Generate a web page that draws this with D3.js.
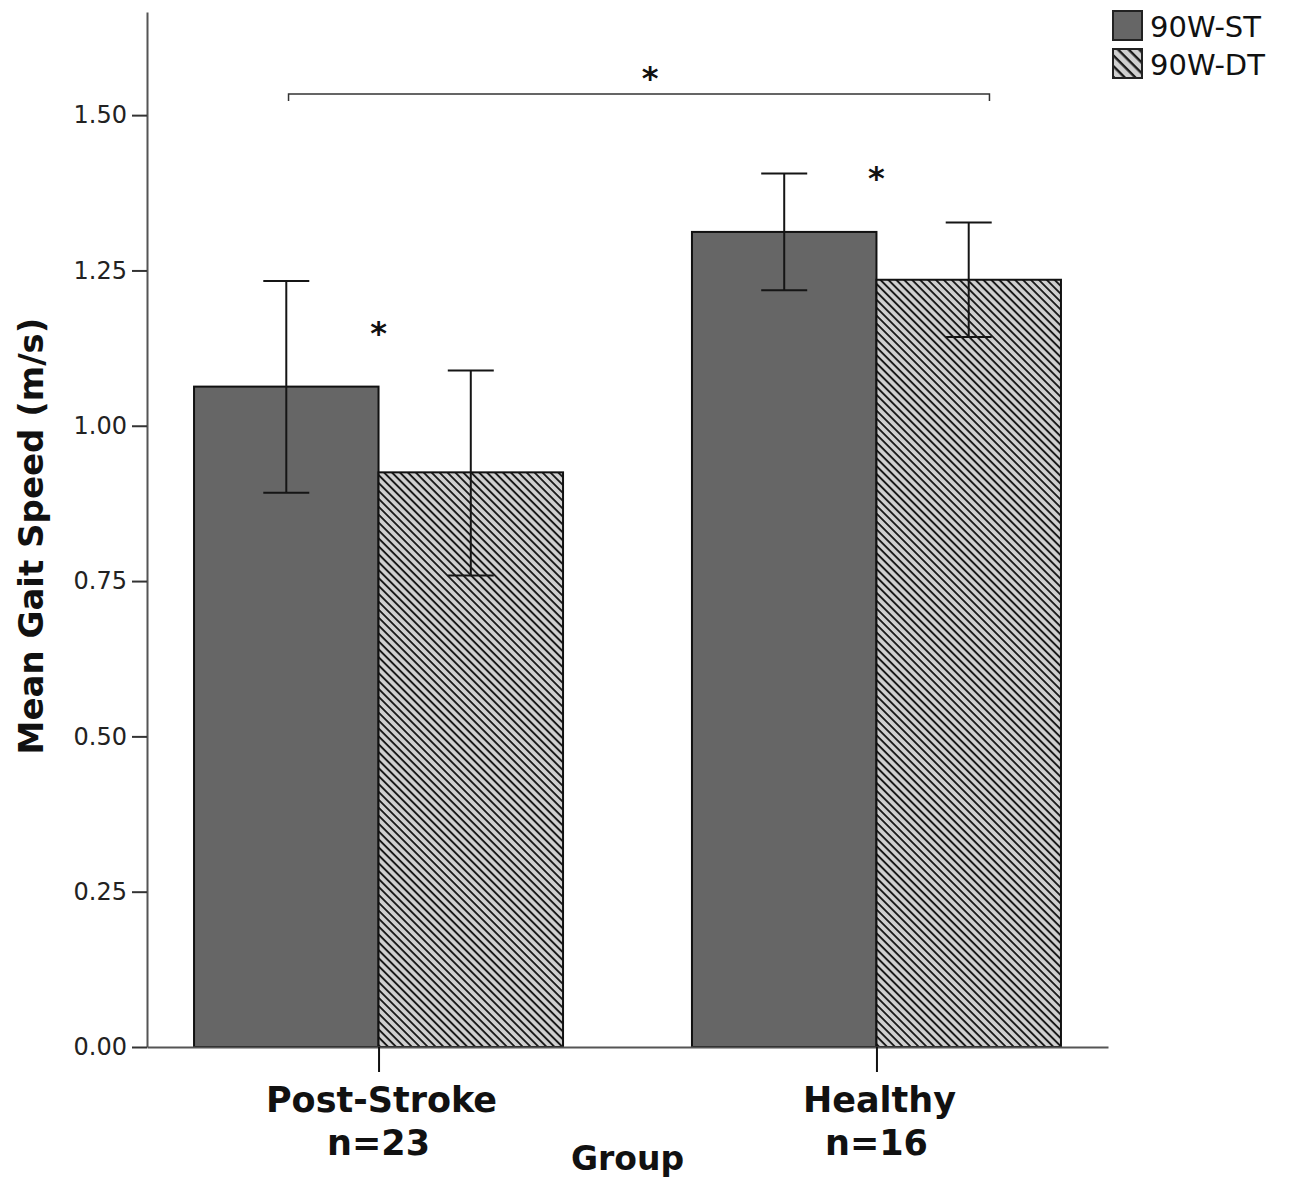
<!DOCTYPE html>
<html><head><meta charset="utf-8">
<script src="https://cdn.jsdelivr.net/npm/d3@7"></script>
<style>body{margin:0;background:#fff}svg{display:block}</style>
</head><body>
<svg id="chart" width="1293" height="1181"></svg>
<script>
// ---- data ----
const groups = ["Post-Stroke", "Healthy"];
const groupN = ["n=23", "n=16"];
const series = ["90W-ST", "90W-DT"];
const stMeans = [1.063, 1.312];
const dtMeans = [0.925, 1.235];
const stLower = [0.892, 1.218];
const stUpper = [1.233, 1.406];
const dtLower = [0.759, 1.143];
const dtUpper = [1.089, 1.327];
const yTicks = [0.00, 0.25, 0.50, 0.75, 1.00, 1.25, 1.50];
const yMax = 1.666;
const yTitle = "Mean Gait Speed (m/s)";
const xTitle = "Group";
const starWithin = [1.154, 1.404];   // within-group significance marker heights
const bracketValue = 1.534;          // between-group bracket height
const starBetween = 1.572;

// ---- layout ----
const FONT = "'DejaVu Sans'";
const svg = d3.select("#chart");
const mLeft = 147, mRight = 1108, mTop = 12, mBottom = 1047;
const y = d3.scaleLinear().domain([0, yMax]).range([mBottom, mTop]);
const x0 = d3.scalePoint().domain(groups).range([mLeft, mRight]).padding(0.465);
const x1 = d3.scaleBand().domain(series).range([-184.5, 184.5]).padding(0);

const defs = svg.append("defs");
function hatch(id, period, lw) {
  const p = defs.append("pattern").attr("id", id).attr("patternUnits", "userSpaceOnUse")
    .attr("width", period).attr("height", period).attr("patternTransform", "rotate(45)");
  p.append("rect").attr("width", period).attr("height", period).attr("fill", "#d0d0d0");
  p.append("rect").attr("x", 0).attr("y", 0).attr("width", period).attr("height", lw).attr("fill", "#1a1a1a");
}
hatch("hatchBar", 5.6, 1.9);
hatch("hatchLeg", 7.5, 2.4);

const fills = { "90W-ST": "#666666", "90W-DT": "url(#hatchBar)" };
const legFills = { "90W-ST": "#666666", "90W-DT": "url(#hatchLeg)" };

const rows = [];
groups.forEach((g, i) => {
  rows.push({ g, s: "90W-ST", v: stMeans[i], lo: stLower[i], hi: stUpper[i] });
  rows.push({ g, s: "90W-DT", v: dtMeans[i], lo: dtLower[i], hi: dtUpper[i] });
});

// bars
svg.append("g").selectAll("rect").data(rows).join("rect")
  .attr("x", d => x0(d.g) + x1(d.s))
  .attr("y", d => y(d.v))
  .attr("width", x1.bandwidth())
  .attr("height", d => y(0) - y(d.v))
  .attr("fill", d => fills[d.s])
  .attr("stroke", "#111").attr("stroke-width", 2);

// axes
const yAxis = svg.append("g").attr("transform", `translate(${mLeft},0)`)
  .call(d3.axisLeft(y).tickValues(yTicks).tickFormat(d3.format(".2f")).tickSize(15).tickSizeOuter(0).tickPadding(5));
yAxis.select(".domain").attr("stroke", "#555").attr("stroke-width", 2);
yAxis.selectAll(".tick line").attr("stroke", "#333").attr("stroke-width", 2);
yAxis.selectAll(".tick text").attr("font-family", FONT).attr("font-size", 24).attr("fill", "#222");

const xAxis = svg.append("g").attr("transform", `translate(0,${mBottom})`)
  .call(d3.axisBottom(x0).tickSize(25).tickSizeOuter(0).tickFormat(""));
xAxis.select(".domain").attr("stroke", "#555").attr("stroke-width", 2);
xAxis.selectAll(".tick line").attr("stroke", "#111").attr("stroke-width", 2);

// category labels
const catG = svg.append("g").attr("font-family", FONT).attr("font-weight", 700)
  .attr("text-anchor", "middle").attr("fill", "#111");
groups.forEach((g, i) => {
  catG.append("text").attr("x", x0(g) + 3).attr("y", mBottom + 65).attr("font-size", 35).text(g);
  catG.append("text").attr("x", x0(g)).attr("y", mBottom + 108).attr("font-size", 35).text(groupN[i]);
});

// axis titles
svg.append("text").attr("x", (x0(groups[0]) + x0(groups[1])) / 2).attr("y", 1170)
  .attr("text-anchor", "middle").attr("font-family", FONT).attr("font-weight", 700)
  .attr("font-size", 33).attr("fill", "#111").text(xTitle);
svg.append("text").attr("transform", "translate(43,536) rotate(-90)")
  .attr("text-anchor", "middle").attr("font-family", FONT).attr("font-weight", 700)
  .attr("font-size", 34).attr("fill", "#111").text(yTitle);

// error bars
const cap = 23;
const eb = svg.append("g").attr("stroke", "#151515").attr("stroke-width", 2);
rows.forEach(d => {
  const cx = x0(d.g) + x1(d.s) + x1.bandwidth() / 2;
  eb.append("line").attr("x1", cx).attr("x2", cx).attr("y1", y(d.hi)).attr("y2", y(d.lo));
  eb.append("line").attr("x1", cx - cap).attr("x2", cx + cap).attr("y1", y(d.hi)).attr("y2", y(d.hi));
  eb.append("line").attr("x1", cx - cap).attr("x2", cx + cap).attr("y1", y(d.lo)).attr("y2", y(d.lo));
});

// significance markers
const starG = svg.append("g").attr("font-family", FONT).attr("font-weight", 700)
  .attr("font-size", 32).attr("text-anchor", "middle").attr("fill", "#111");
groups.forEach((g, i) => {
  starG.append("text").attr("x", x0(g)).attr("y", y(starWithin[i]) + 14).text("*");
});
const bx1 = x0(groups[0]) - 90, bx2 = x0(groups[1]) + 113, by = y(bracketValue);
svg.append("path").attr("d", `M${bx1},${by + 7}V${by}H${bx2}V${by + 7}`)
  .attr("fill", "none").attr("stroke", "#333").attr("stroke-width", 1.5);
starG.append("text").attr("x", (bx1 + bx2) / 2 + 11).attr("y", y(starBetween) + 19).text("*");

// legend
const leg = svg.append("g").attr("transform", "translate(1112,10)");
series.forEach((s, i) => {
  leg.append("rect").attr("x", 1).attr("y", i * 38 + 1).attr("width", 29).attr("height", 29)
    .attr("fill", legFills[s]).attr("stroke", "#222").attr("stroke-width", 2);
  leg.append("text").attr("x", 38).attr("y", i * 38 + 27).attr("font-family", FONT)
    .attr("font-size", 29).attr("fill", "#111").text(s);
});
</script>
</body></html>
